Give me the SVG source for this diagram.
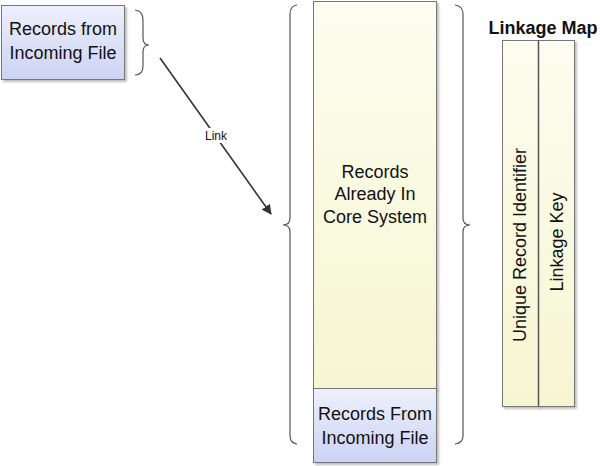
<svg xmlns="http://www.w3.org/2000/svg" width="600" height="466" viewBox="0 0 600 466">
<defs>
<linearGradient id="blue" x1="0" y1="0" x2="0" y2="1"><stop offset="0" stop-color="#eef0fc"/><stop offset="1" stop-color="#cbd3f4"/></linearGradient>
<linearGradient id="yellow" x1="0" y1="0" x2="0" y2="1"><stop offset="0" stop-color="#fdfdf0"/><stop offset="1" stop-color="#f6f6d2"/></linearGradient>
<marker id="arr" viewBox="0 0 10 10" refX="9" refY="5" markerWidth="10" markerHeight="10" markerUnits="userSpaceOnUse" orient="auto"><path d="M0,0 L10,5 L0,10 z" fill="#333"/></marker>
<filter id="sh" x="-10%" y="-10%" width="130%" height="130%"><feDropShadow dx="2" dy="2" stdDeviation="1.2" flood-color="#000" flood-opacity="0.25"/></filter>
</defs>
<style>
.box{stroke:#777;stroke-width:1;filter:url(#sh)}
.t{font-family:"Liberation Sans",Arial,sans-serif;font-size:18px;fill:#111;text-anchor:middle}
.brace{fill:none;stroke:#555;stroke-width:1.2}
</style>
<g id="incoming">
<rect class="box" x="1.5" y="5.5" width="123" height="74" fill="url(#blue)"/>
<text class="t" x="63" y="35">Records from</text>
<text class="t" x="63" y="59">Incoming File</text>
</g>
<g id="core">
<rect class="box" x="313.5" y="1.5" width="123" height="387" fill="url(#yellow)"/>
<text class="t" x="375" y="178">Records</text>
<text class="t" x="375" y="200">Already In</text>
<text class="t" x="375" y="223">Core System</text>
</g>
<g id="incoming2">
<rect class="box" x="313.5" y="388.5" width="123" height="74" fill="url(#blue)"/>
<text class="t" x="375" y="420">Records From</text>
<text class="t" x="375" y="444">Incoming File</text>
</g>
<g id="linkage">
<text x="543" y="34" style="font-family:'Liberation Sans',Arial,sans-serif;font-size:18px;font-weight:bold;fill:#111;text-anchor:middle">Linkage Map</text>
<rect class="box" x="502.5" y="40.5" width="36" height="366" fill="url(#yellow)"/>
<rect class="box" x="538.5" y="40.5" width="36" height="366" fill="url(#yellow)"/>
<line x1="538.5" y1="40.5" x2="538.5" y2="406.5" stroke="#555" stroke-width="1.5"/>
<text class="t" transform="translate(526,245) rotate(-90)">Unique Record Identifier</text>
<text class="t" transform="translate(563,242) rotate(-90)">Linkage Key</text>
</g>
<g id="braces">
<path class="brace" d="M135,10 Q143,11 143,20 L143,38 Q143,45 149,45 Q143,45 143,52 L143,66 Q143,75 135,75"/>
<path class="brace" d="M297,5 Q290,6 290,14 L290,218 Q290,225 283,225 Q290,225 290,232 L290,436 Q290,443 297,444"/>
<path class="brace" d="M455,5 Q463,6 463,14 L463,218 Q463,225 470,225 Q463,225 463,232 L463,436 Q463,443 455,444"/>
</g>
<g id="connectors">
<line x1="160" y1="58" x2="271" y2="214" stroke="#333" stroke-width="1.6" marker-end="url(#arr)"/>
<rect x="203" y="128" width="26" height="15" fill="#fff"/>
<text x="216" y="140" style="font-family:'Liberation Sans',Arial,sans-serif;font-size:12px;fill:#111;text-anchor:middle">Link</text>
</g>
</svg>
